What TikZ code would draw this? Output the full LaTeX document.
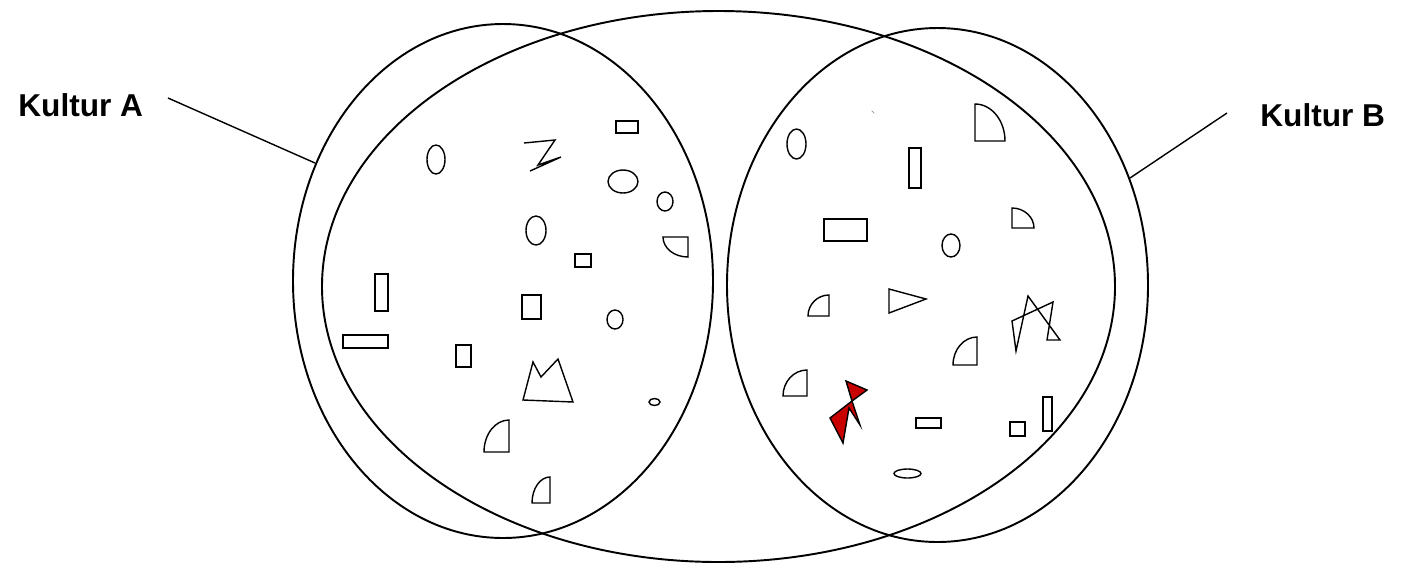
\documentclass[tikz,border=0pt]{standalone}
\usepackage{fontspec}
\setmainfont{Liberation Sans}
\definecolor{kred}{RGB}{200,0,0}
\begin{document}
\begin{tikzpicture}[x=0.02cm,y=-0.02cm,
  big/.style={draw=black,line width=1.1pt},
  shp/.style={draw=black,line width=0.8pt,line join=miter},
  lead/.style={draw=black,line width=0.8pt},
  lbl/.style={font=\fontsize{18}{21}\selectfont\bfseries,inner sep=0pt,anchor=base west}]
\useasboundingbox (0,0) rectangle (1403,566);
% main ellipses
\draw[big] (718.5,286.5) ellipse [x radius=396.5, y radius=275.5];
\draw[big] (503,281) ellipse [x radius=210, y radius=257];
\draw[big] (937.5,285) ellipse [x radius=210.5, y radius=257];
% labels
\node[lbl] (ka) at (18,116) {Kultur A};
\node[lbl] (kb) at (1260,126) {Kultur B};
\coordinate (a1) at (168,98);
\coordinate (a2) at (315,163);
\draw[lead] (a1) -- (a2);
\coordinate (b1) at (1227,113);
\coordinate (b2) at (1130,178);
\draw[lead] (b1) -- (b2);
% left shapes
\draw[shp] (436,159.5) ellipse [x radius=9, y radius=14.5];
\draw[shp] (524,143) -- (555,140) -- (538,165) -- (561,157) -- (530,171);
\draw[shp] (616,121) rectangle (638,133);
\draw[shp] (623,181.5) ellipse [x radius=15, y radius=11.5];
\draw[shp] (665,201.5) ellipse [x radius=8, y radius=9.5];
\draw[shp] (536,230.5) ellipse [x radius=10, y radius=14.5];
\draw[shp] (688,237) -- (663,237) .. controls (663,248) and (674,257) .. (688,257) -- cycle;
\draw[shp] (575,254) rectangle (591,267);
\draw[shp] (375,274) rectangle (388,311);
\draw[shp] (522,295) rectangle (541,319);
\draw[shp] (615,319.5) ellipse [x radius=8, y radius=9.5];
\draw[shp] (343,335) rectangle (388,348);
\draw[shp] (456,345) rectangle (471,367);
\draw[shp] (523,400) -- (533,362) -- (541,377) -- (558,359) -- (573,402) -- cycle;
\draw[shp] (654.5,402) ellipse [x radius=5.5, y radius=3.5];
\draw[shp] (509,452) -- (484,452) .. controls (484,434.3) and (495.2,420) .. (509,420) -- cycle;
\draw[shp] (550,503) -- (532,503) .. controls (532,488.6) and (540.1,477) .. (550,477) -- cycle;
% right shapes
\draw[gray,line width=0.4pt] (871.7,110.7) -- (874.3,113.3);
\draw[shp] (796.5,144) ellipse [x radius=9.5, y radius=15];
\draw[shp] (975,141) -- (1005,141) .. controls (1005,120.6) and (991.6,104) .. (975,104) -- cycle;
\draw[shp] (909,148) rectangle (921,188);
\draw[shp] (824,219) rectangle (867,241);
\draw[shp] (1012,228) -- (1034,228) .. controls (1034,217) and (1024.1,208) .. (1012,208) -- cycle;
\draw[shp] (951,245.5) ellipse [x radius=9, y radius=11.5];
\draw[shp] (829,316) -- (808,316) .. controls (808,304.4) and (817.4,295) .. (829,295) -- cycle;
\draw[shp] (889,289) -- (926,299) -- (889,313) -- cycle;
\draw[shp] (1028,296) -- (1016,351) -- (1012,321) -- (1053,302) -- (1047,340) -- (1060,340) -- cycle;
\draw[shp] (977,365) -- (953,365) .. controls (953,349.5) and (963.8,337) .. (977,337) -- cycle;
\draw[shp] (807,396) -- (783,396) .. controls (783,381.6) and (793.8,370) .. (807,370) -- cycle;
\filldraw[shp,fill=kred] (846,381) -- (867,390) -- (852,401) -- (860,425) -- (849,408) -- (843,443) -- (830,418) -- (852,401) -- cycle;
\draw[shp] (916,418) rectangle (941,428);
\draw[shp] (1043,397) rectangle (1052,431);
\draw[shp] (1010,422) rectangle (1025,436);
\draw[shp] (907.5,473.5) ellipse [x radius=13.5, y radius=4.5];
\end{tikzpicture}
\end{document}
